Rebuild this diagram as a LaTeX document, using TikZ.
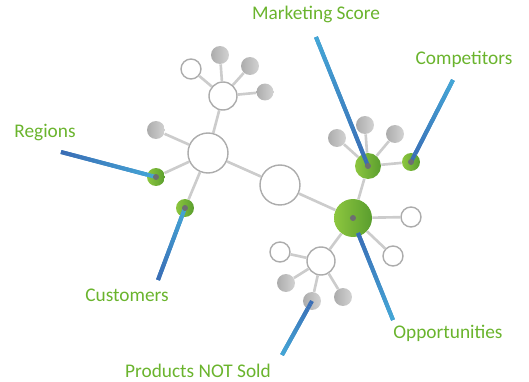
\documentclass[tikz,border=0pt]{standalone}
\usepackage{fontspec}
\setmainfont{Carlito}
\usetikzlibrary{calc}

\definecolor{labelgreen}{HTML}{6AB42D}
\definecolor{greenlight}{HTML}{8DC63F}
\definecolor{greendark}{HTML}{5A9E2E}
\definecolor{linkdark}{HTML}{3A6DB5}
\definecolor{linklight}{HTML}{45A9D8}
\definecolor{dotgray}{HTML}{6D6E71}

\tikzset{
    ring/.style={circle, draw=gray!65, line width=0.8pt, fill=white, inner sep=0pt},
    ball/.style={circle, left color=gray!65, right color=gray!35, inner sep=0pt},
    hot/.style={circle, left color=greenlight, right color=greendark, inner sep=0pt},
    edge/.style={draw=gray!40, line width=1.5pt},
    link/.style={line width=2.3pt},
    tag/.style={text=labelgreen, font=\fontsize{11}{13}\selectfont, anchor=base, inner sep=0pt}
}

% blue leader line, shaded from the first point (dark) to the second (light)
\newcommand{\bluelink}[2]{
    \draw[link, linkdark!50!linklight] (#1) -- (#2);
    \foreach \i in {0,...,19}{
        \pgfmathsetmacro\s{\i/20}
        \pgfmathsetmacro\e{(\i+1)/20}
        \pgfmathtruncatemacro\pct{100-5*\i}
        \draw[link, linkdark!\pct!linklight] ($(#1)!\s!(#2)$) -- ($(#1)!\e!(#2)$);
    }
}

\begin{document}
\begin{tikzpicture}[x=0.02cm, y=-0.02cm]
    \useasboundingbox (0,0) rectangle (529,382);

    % upper cluster
    \node[ring, minimum size=0.56cm] (tl) at (223,96) {};
    \node[ring, minimum size=0.4cm] (tlw) at (191,69) {};
    \node[ball, minimum size=0.36cm] (tlg1) at (220,55) {};
    \node[ball, minimum size=0.36cm] (tlg2) at (250,66) {};
    \node[ball, minimum size=0.34cm] (tlg3) at (265,92) {};

    % left hub
    \node[ring, minimum size=0.8cm] (hub) at (208,153) {};
    \node[ball, minimum size=0.36cm] (hg) at (156,130) {};
    \node[hot, minimum size=0.36cm] (reg) at (156,177) {};
    \node[hot, minimum size=0.36cm] (cust) at (185,208) {};

    \node[ring, minimum size=0.8cm] (mid) at (280,185) {};

    % right cluster
    \node[hot, minimum size=0.76cm] (opp) at (353,218) {};
    \node[hot, minimum size=0.52cm] (mkt) at (368,166) {};
    \node[hot, minimum size=0.36cm] (comp) at (411,162) {};
    \node[ball, minimum size=0.36cm] (mg1) at (337,138) {};
    \node[ball, minimum size=0.36cm] (mg2) at (365,125) {};
    \node[ball, minimum size=0.36cm] (mg3) at (395,134) {};
    \node[ring, minimum size=0.4cm] (ow1) at (411,217) {};
    \node[ring, minimum size=0.4cm] (ow2) at (393,256) {};

    % lower cluster
    \node[ring, minimum size=0.56cm] (low) at (321,261) {};
    \node[ring, minimum size=0.4cm] (lw) at (280,252) {};
    \node[ball, minimum size=0.36cm] (lg1) at (286,283) {};
    \node[ball, minimum size=0.36cm] (lg2) at (312,301) {};
    \node[ball, minimum size=0.36cm] (lg3) at (343,297) {};

    \foreach \a/\b in {tl/tlw, tl/tlg1, tl/tlg2, tl/tlg3, tl/hub,
                       hub/hg, hub/reg, hub/cust, hub/mid, mid/opp,
                       opp/mkt, opp/ow1, opp/ow2, opp/low,
                       mkt/mg1, mkt/mg2, mkt/mg3, mkt/comp,
                       low/lw, low/lg1, low/lg2, low/lg3}
        \draw[edge] (\a) -- (\b);

    % labels
    \node[tag] (tmkt) at (316,19) {Marketing Score};
    \node[tag] (tcomp) at (464,65) {Competitors};
    \node[tag] (treg) at (45,137) {Regions};
    \node[tag] (tcust) at (127,302) {Customers};
    \node[tag] (topp) at (448,339) {Opportunities};
    \node[tag] (tprod) at (198,378) {Products NOT Sold};

    \coordinate (emkt) at (316,37);
    \coordinate (ecomp) at (453,80);
    \coordinate (ereg) at (61,152);
    \coordinate (ecust) at (158,280);
    \coordinate (sopp) at (358,233);
    \coordinate (eopp) at (393,320);
    \coordinate (eprod) at (282,355);

    \bluelink{ereg}{reg}
    \bluelink{ecust}{cust}
    \bluelink{mkt}{emkt}
    \bluelink{comp}{ecomp}
    \bluelink{sopp}{eopp}
    \bluelink{lg2}{eprod}

    % centre dots
    \foreach \n in {reg, cust, mkt, comp, opp}
        \fill[dotgray] (\n) circle (0.06cm);
\end{tikzpicture}
\end{document}
